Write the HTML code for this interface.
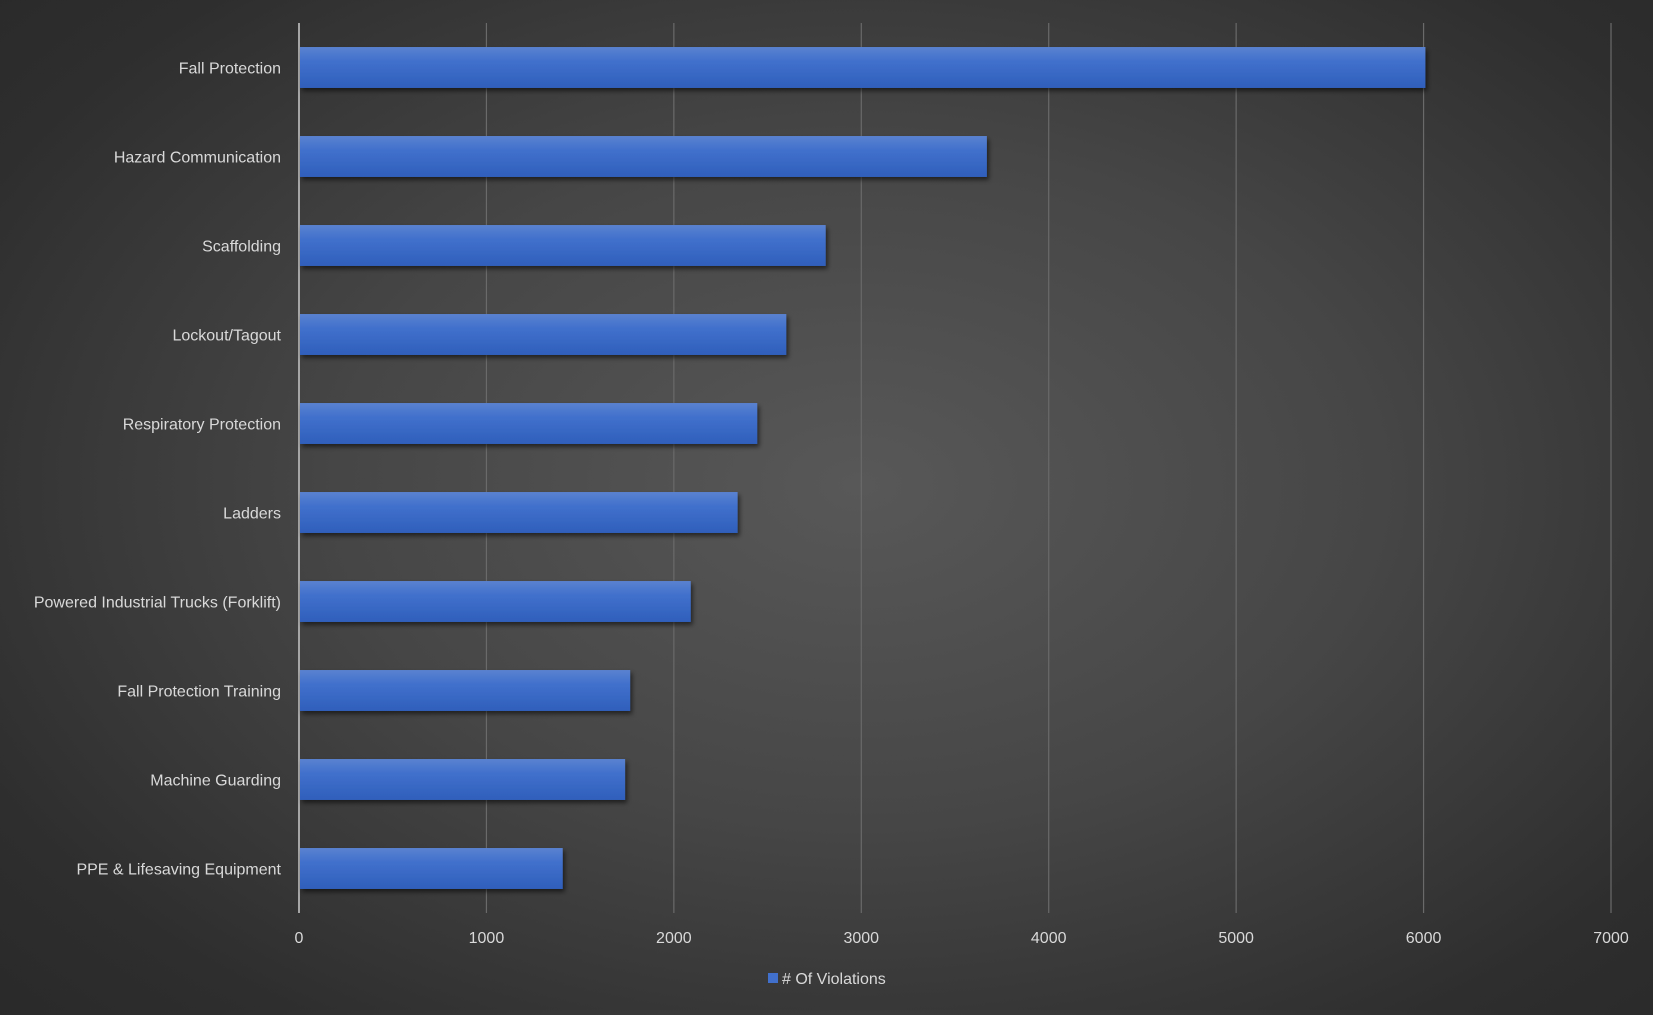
<!DOCTYPE html>
<html><head><meta charset="utf-8">
<style>
html,body{margin:0;padding:0;}
body{width:1653px;height:1010px;overflow:hidden;background:radial-gradient(ellipse 70% 75% at 52% 48%,#585858 0%,#464646 45%,#2e2e2e 85%,#2a2a2a 100%);font-family:"Liberation Sans",sans-serif;}
svg text{font-family:"Liberation Sans",sans-serif;fill:#d9d9d9;}
</style></head><body>
<svg id="chart" width="1653" height="1010" xmlns="http://www.w3.org/2000/svg">
<defs>
<linearGradient id="barg" x1="0" y1="0" x2="0" y2="1">
<stop offset="0" stop-color="#5a82d0"/><stop offset="0.35" stop-color="#4170cc"/><stop offset="1" stop-color="#2f5fbb"/>
</linearGradient>
<filter id="sh" x="-5%" y="-20%" width="110%" height="160%"><feDropShadow dx="2" dy="3" stdDeviation="2.5" flood-color="#000" flood-opacity="0.55"/></filter>
</defs>
<g id="grid"></g>
<g id="bars"></g>
<g id="ylabels"></g>
<g id="xlabels"></g>
<g>
<rect x="768" y="973" width="10" height="10" fill="#4170cc"/>
<text x="782" y="984" font-size="16">#&#160;Of Violations</text>
</g>
</svg>
<script>
const categories=["Fall Protection","Hazard Communication","Scaffolding","Lockout/Tagout","Respiratory Protection","Ladders","Powered Industrial Trucks (Forklift)","Fall Protection Training","Machine Guarding","PPE & Lifesaving Equipment"];
const values=[6010,3670,2810,2600,2445,2340,2090,1767,1740,1407];
const ticks=[0,1000,2000,3000,4000,5000,6000,7000];
const NS="http://www.w3.org/2000/svg";
const x0=299,x1=1611,xmax=7000,yTop=23,yBottom=913;
function xs(v){return x0+(x1-x0)*v/xmax;}
const band=(yBottom-yTop)/categories.length;
function yc(i){return yTop+band*(i+0.5);}
function mk(t,a,p){const e=document.createElementNS(NS,t);for(const k in a)e.setAttribute(k,a[k]);p.appendChild(e);return e;}
const g=document.getElementById('grid'),b=document.getElementById('bars'),yl=document.getElementById('ylabels'),xl=document.getElementById('xlabels');
ticks.forEach(t=>{
 const l=mk('line',{x1:xs(t),x2:xs(t),y1:yTop,y2:yBottom,stroke:t===0?'#a6a6a6':'#6a6a6a','stroke-width':t===0?2:1.2},g);
 
 
 const tx=mk('text',{x:xs(t),y:943,'font-size':16,'text-anchor':'middle'},xl);
 tx.textContent=t;
 
 
});
const bh=band*0.46;
categories.forEach((c,i)=>{
 const r=mk('rect',{x:x0+1,y:yc(i)-bh/2,width:xs(values[i])-x0-1,height:bh,fill:'url(#barg)',filter:'url(#sh)'},b);
 
 
 const tx=mk('text',{x:281,y:yc(i)+6,'font-size':16,'text-anchor':'end'},yl);
 tx.textContent=c;
 
 
});
</script>
</body></html>
